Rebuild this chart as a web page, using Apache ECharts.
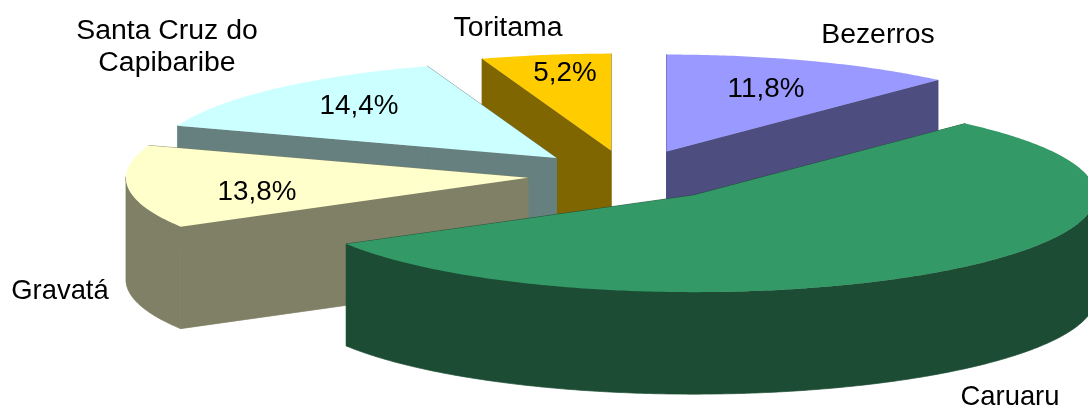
<!DOCTYPE html>
<html><head><meta charset="utf-8">
<style>html,body{margin:0;padding:0;background:#fff}#c{width:1088px;height:408px}</style>
<script src="https://cdn.jsdelivr.net/npm/echarts@6/dist/echarts.min.js"></script>
</head><body><div id="c"></div>
<script>
// Data, clockwise from 12 o'clock
const categories = ['Bezerros', 'Caruaru', 'Gravatá', 'Santa Cruz do\nCapibaribe', 'Toritama'];
const values = [11.8, 54.8, 13.8, 14.4, 5.2];
const showPercent = [true, false, true, true, true];
const topColors = ['#9999FF', '#339966', '#FFFFCC', '#CCFFFF', '#FFCC00'];
const wallColors = ['#4D4D80', '#1C4D34', '#808066', '#668080', '#806600'];
const drawOrder = [0, 4, 3, 2, 1];

// Layout
const CX = 628, CY = 175.5, RX = 402, RY = 97, DEPTH = 102;
const explode = [0.265, 0.26, 0.25, 0.253, 0.26];
const namePos = [[878, 35], [1010, 397], [60, 291], [167, 47], [508, 28]];
const nameSize = [28.4, 27.4, 27.4, 28.4, 28.4];
const pctPos = [[766, 89], null, [257, 192], [359, 106], [565, 73]];
const FONT_FAMILY = '"Liberation Sans", Arial, sans-serif';
const PCT_SIZE = 27.8;

const total = values.reduce((a, b) => a + b, 0);
const starts = [];
values.reduce((acc, v, i) => { starts[i] = acc; return acc + v; }, 0);
const rad = v => v / total * 2 * Math.PI;

function renderSlice(params) {
  const i = drawOrder[params.dataIndex];
  const a0 = rad(starts[i]), a1 = rad(starts[i] + values[i]), mid = (a0 + a1) / 2;
  const ax = CX + explode[i] * RX * Math.sin(mid), ay = CY - explode[i] * RY * Math.cos(mid);
  const rim = a => [ax + RX * Math.sin(a), ay - RY * Math.cos(a)];
  const N = Math.max(4, Math.ceil((a1 - a0) * 90));
  const arc = [];
  for (let k = 0; k <= N; k++) arc.push(a0 + (a1 - a0) * k / N);
  const poly = (pts, fill, stroke) => ({ type: 'polygon', shape: { points: pts }, silent: true,
    style: { fill: fill, stroke: stroke || null, lineWidth: stroke ? 0.7 : 0 } });
  const down = p => [p[0], p[1] + DEPTH];
  const apex = [ax, ay];
  const wall = wallColors[i];
  const children = [];
  [a0, a1].forEach(a => { const r = rim(a); children.push(poly([apex, r, down(r), down(apex)], wall, wall)); });
  const front = arc.filter(a => Math.cos(a) <= 0.02);
  if (front.length > 1) {
    const upper = front.map(rim);
    children.push(poly(upper.concat(upper.slice().reverse().map(down)), wall, wall));
  }
  children.push(poly([apex].concat(arc.map(rim)), topColors[i]));
  const text = (t, p, size) => ({ type: 'text', x: p[0], y: p[1], silent: true,
    style: { text: t, font: size + 'px ' + FONT_FAMILY, fill: '#000', align: 'center', verticalAlign: 'middle', lineHeight: 32 } });
  if (pctPos[i] && showPercent[i]) children.push(text(values[i].toFixed(1).replace('.', ',') + '%', pctPos[i], PCT_SIZE));
  children.push(text(categories[i], namePos[i], nameSize[i]));
  return { type: 'group', children: children };
}

const chart = echarts.init(document.getElementById('c'), null, { renderer: 'canvas' });
chart.setOption({
  backgroundColor: '#fff',
  animation: false,
  series: [{
    type: 'custom',
    coordinateSystem: 'none',
    silent: true,
    renderItem: renderSlice,
    data: drawOrder.map(i => ({ name: categories[i], value: values[i] }))
  }]
});
</script></body></html>
